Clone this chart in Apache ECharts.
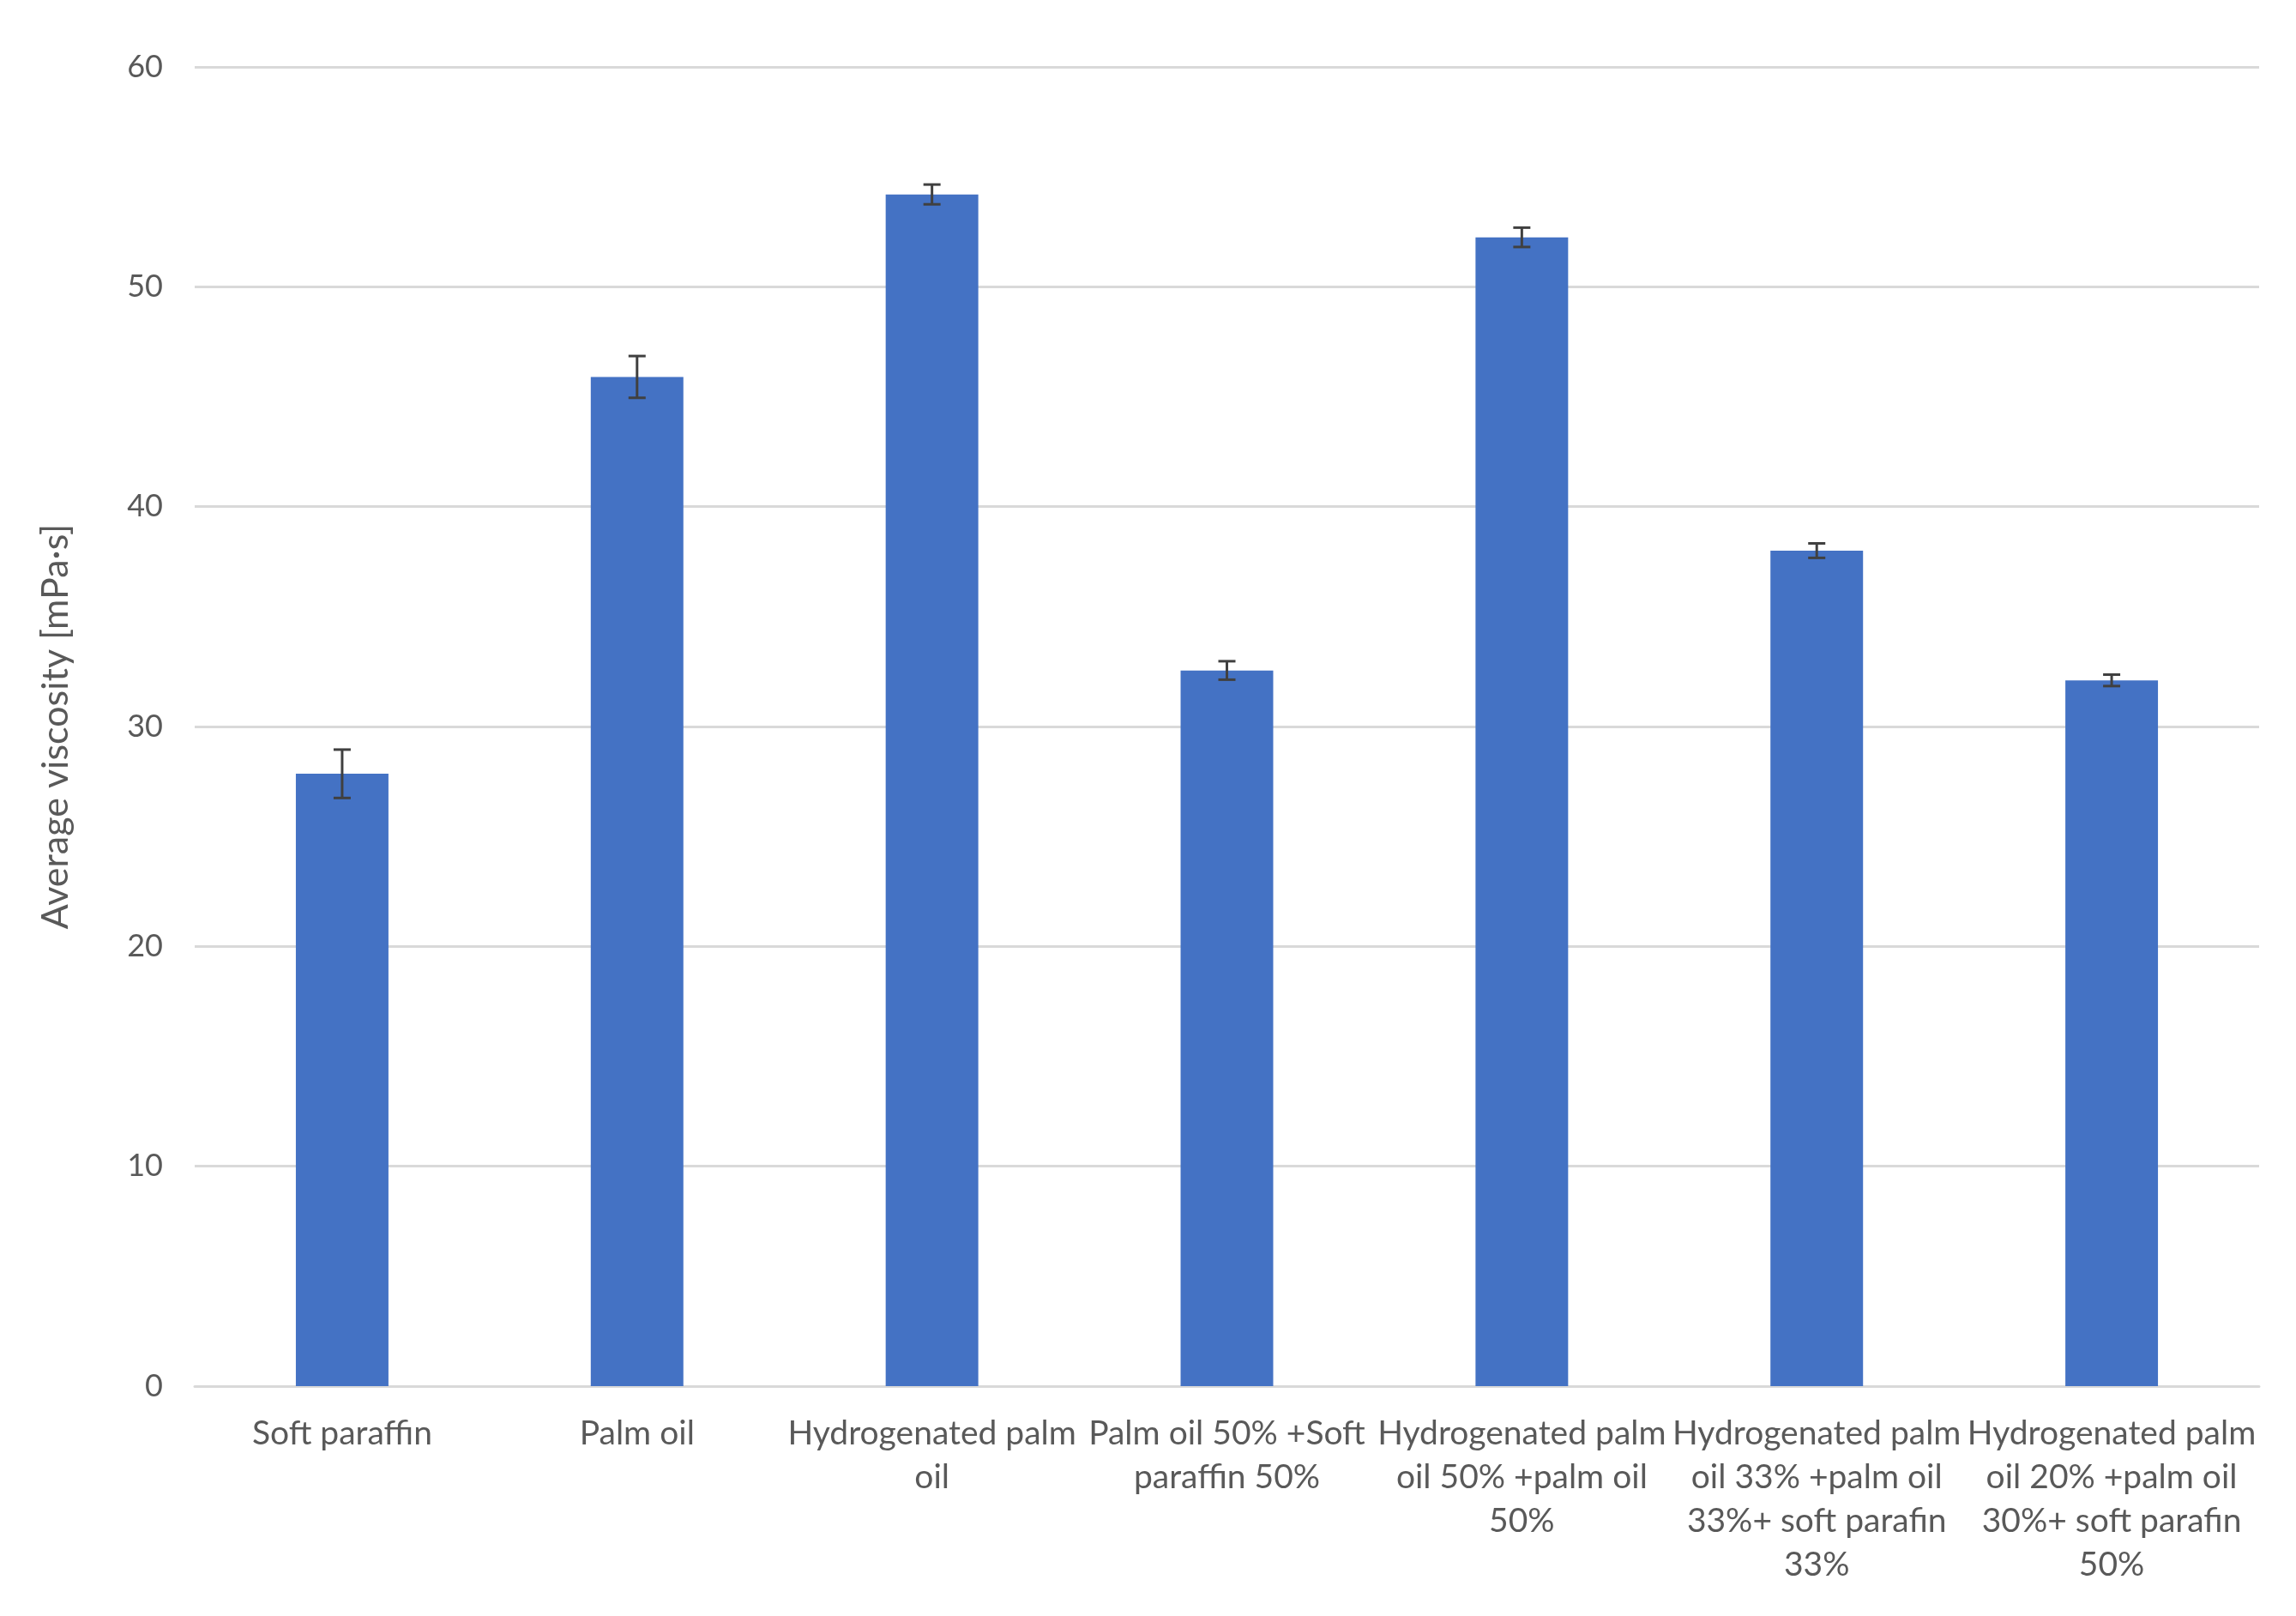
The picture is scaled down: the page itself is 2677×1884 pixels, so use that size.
<!DOCTYPE html>
<html>
<head>
<meta charset="utf-8">
<script src="https://cdn.jsdelivr.net/npm/echarts@6/dist/echarts.min.js"></script>
<style>
html,body{margin:0;padding:0;background:#fff;}
#chart{width:2677px;height:1884px;}
</style>
</head>
<body>
<div id="chart"></div>
<script>
const categories = [
  "Soft paraffin",
  "Palm oil",
  "Hydrogenated palm\noil",
  "Palm oil 50% +Soft\nparaffin 50%",
  "Hydrogenated palm\noil 50% +palm oil\n50%",
  "Hydrogenated palm\noil 33% +palm oil\n33%+ soft parafin\n33%",
  "Hydrogenated palm\noil 20% +palm oil\n30%+ soft parafin\n50%"
];
const viscosity = [27.85, 45.9, 54.2, 32.55, 52.25, 38.0, 32.1];
const errors = [1.1, 0.95, 0.45, 0.42, 0.44, 0.33, 0.26];
const yTicks = [0, 10, 20, 30, 40, 50, 60];

const font = 'Lato, "Open Sans", sans-serif';
const errData = viscosity.map((v, i) => [i, v - errors[i], v + errors[i]]);

const chart = echarts.init(document.getElementById('chart'));
chart.setOption({
  animation: false,
  backgroundColor: '#ffffff',
  grid: {left: 227, right: 43, top: 78, bottom: 268, containLabel: false},
  xAxis: {
    type: 'category',
    data: categories,
    axisLine: {show: true, lineStyle: {color: '#D9D9D9', width: 3}},
    axisTick: {show: false},
    axisLabel: {
      interval: 0,
      color: '#595959',
      fontFamily: font,
      fontSize: 39,
      lineHeight: 51,
      margin: 30,
      align: 'center'
    },
    splitLine: {show: false}
  },
  yAxis: {
    type: 'value',
    min: yTicks[0],
    max: yTicks[yTicks.length - 1],
    interval: 10,
    name: 'Average viscosity [mPa·s]',
    nameLocation: 'middle',
    nameGap: 140,
    nameTextStyle: {color: '#595959', fontFamily: font, fontSize: 43},
    axisLine: {show: false},
    axisTick: {show: false},
    axisLabel: {color: '#595959', fontFamily: font, fontSize: 36, margin: 37},
    splitLine: {show: true, lineStyle: {color: '#D9D9D9', width: 3}}
  },
  series: [
    {
      type: 'bar',
      data: viscosity,
      barWidth: '31.4%',
      itemStyle: {color: '#4472C4'}
    },
    {
      type: 'custom',
      data: errData,
      z: 10,
      renderItem: function (params, api) {
        const x = api.value(0);
        const lo = api.coord([x, api.value(1)]);
        const hi = api.coord([x, api.value(2)]);
        const half = 10;
        const style = {stroke: '#404040', lineWidth: 3};
        return {
          type: 'group',
          children: [
            {type: 'line', shape: {x1: lo[0], y1: lo[1], x2: hi[0], y2: hi[1]}, style: style},
            {type: 'line', shape: {x1: lo[0] - half, y1: lo[1], x2: lo[0] + half, y2: lo[1]}, style: style},
            {type: 'line', shape: {x1: hi[0] - half, y1: hi[1], x2: hi[0] + half, y2: hi[1]}, style: style}
          ]
        };
      }
    }
  ]
});
</script>
</body>
</html>
